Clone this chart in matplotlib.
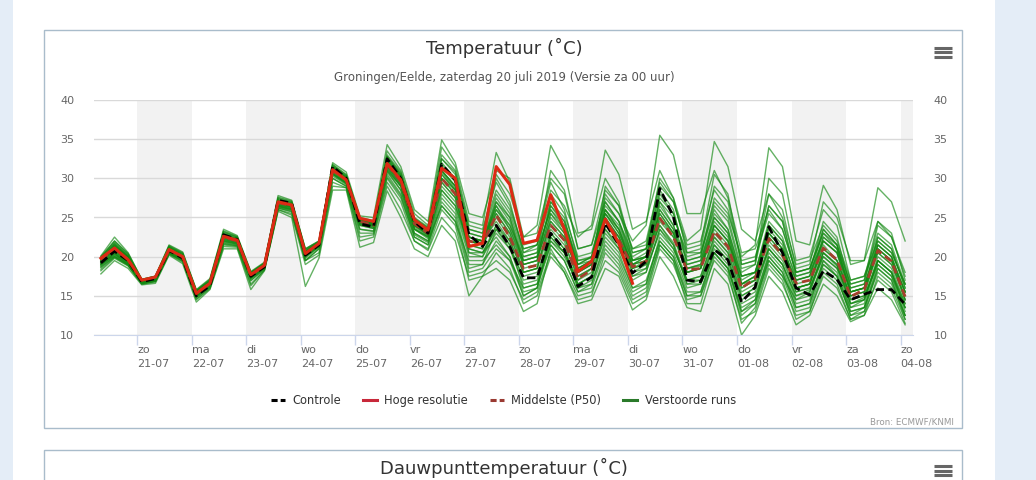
import pandas as pd
import matplotlib
matplotlib.use("Agg")
import matplotlib.pyplot as plt
from matplotlib.lines import Line2D
from matplotlib.patches import Rectangle

W, H = 1036, 480

# 6-hourly steps, local time (00 UTC run)
times = pd.date_range("2019-07-20 08:00", periods=60, freq="6h")
day_ticks = pd.date_range("2019-07-21", "2019-08-04", freq="D")
tick_labels = ["zo\n21-07", "ma\n22-07", "di\n23-07", "wo\n24-07", "do\n25-07",
               "vr\n26-07", "za\n27-07", "zo\n28-07", "ma\n29-07", "di\n30-07",
               "wo\n31-07", "do\n01-08", "vr\n02-08", "za\n03-08", "zo\n04-08"]

controle = [19.2, 20.7, 19.5, 16.8, 17.2, 20.8, 19.8, 15.0, 16.3, 22.8,
            22.2, 17.5, 18.7, 27.2, 26.8, 20.2, 21.5, 31.5, 30.0, 24.2,
            23.8, 32.5, 30.0, 24.5, 23.0, 31.8, 29.8, 22.8, 21.3, 24.0,
            21.3, 17.3, 17.3, 23.0, 20.9, 16.2, 17.4, 24.3, 21.5, 17.9,
            19.4, 28.7, 25.1, 17.0, 16.8, 20.9, 19.6, 14.2, 16.1, 23.8,
            20.5, 16.0, 15.1, 18.2, 17.1, 14.5, 15.2, 15.8, 15.8, 13.9]

# high resolution run only goes to +240h
hoge_resolutie = [19.8, 21.1, 19.6, 17.0, 17.4, 20.9, 20.0, 15.3, 16.6, 22.6,
                  22.1, 17.7, 18.9, 27.0, 26.6, 20.4, 21.7, 31.1, 29.8, 24.9,
                  24.5, 31.9, 29.8, 24.7, 23.4, 31.3, 30.0, 21.3, 21.7, 31.5,
                  29.2, 21.7, 22.1, 27.9, 23.5, 18.1, 19.4, 24.8, 21.7, 16.6]

middelste = [19.6, 21.0, 19.6, 16.9, 17.3, 20.9, 20.0, 15.3, 16.6, 22.5,
             22.0, 17.6, 18.9, 26.9, 26.5, 20.3, 21.6, 31.0, 29.8, 24.5,
             24.0, 31.8, 29.6, 24.2, 23.0, 30.0, 28.0, 22.0, 21.6, 25.3,
             22.5, 18.5, 18.9, 24.0, 22.1, 17.2, 18.3, 24.7, 22.1, 18.7,
             19.4, 24.9, 22.5, 18.3, 18.5, 23.2, 21.3, 16.0, 17.2, 22.3,
             20.2, 16.6, 17.0, 21.1, 19.6, 14.9, 15.8, 20.8, 19.4, 14.9]

verstoorde_runs = [
    [19.9, 21.8, 20.2, 17.0, 17.4, 21.3, 20.4, 15.6, 16.9, 23.0, 22.4, 17.9, 19.1, 27.4, 26.9, 20.8, 21.9, 31.6, 30.3,
     24.9, 24.4, 33.0, 30.8, 25.0, 23.8, 34.0, 31.5, 24.5, 24.0, 33.3, 29.5, 21.5, 22.0, 29.5, 26.0, 19.5, 19.8, 26.0, 23.5,
     18.5, 19.2, 24.0, 21.8, 17.0, 17.5, 22.5, 20.5, 15.5, 16.5, 21.0, 19.0, 15.0, 15.8, 20.5, 18.8, 14.0, 14.8, 19.5, 18.0, 14.0],
    [19.3, 20.8, 19.4, 16.8, 17.2, 20.8, 19.9, 15.2, 16.5, 22.3, 21.9, 17.5, 18.8, 26.6, 26.3, 20.6, 21.8, 31.4, 30.0,
     24.8, 24.3, 32.8, 30.5, 24.8, 23.5, 32.5, 30.8, 23.5, 23.0, 30.5, 28.0, 22.5, 24.0, 34.2, 31.0, 23.0, 23.5, 30.0, 27.0,
     20.5, 21.0, 27.0, 24.0, 18.5, 18.8, 24.0, 22.0, 16.5, 17.0, 22.0, 20.0, 15.5, 16.0, 20.0, 18.5, 15.0, 15.5, 21.5, 20.0, 15.5],
    [18.9, 20.4, 19.0, 16.6, 17.0, 20.6, 19.7, 15.0, 16.3, 22.1, 21.7, 17.3, 18.6, 26.4, 26.0, 20.0, 21.3, 30.7, 29.5,
     24.2, 23.9, 32.0, 29.8, 24.0, 22.8, 30.0, 28.0, 22.0, 21.8, 27.5, 25.0, 20.0, 20.5, 28.5, 26.5, 22.5, 24.0, 33.6, 30.5,
     23.5, 24.5, 31.0, 27.5, 20.5, 20.5, 26.0, 23.5, 17.5, 18.0, 23.0, 21.0, 16.0, 16.5, 21.5, 19.5, 14.5, 15.0, 19.0, 17.5, 13.5],
    [19.5, 21.2, 19.8, 17.0, 17.5, 21.0, 20.2, 15.5, 16.8, 22.8, 22.2, 17.8, 19.0, 27.2, 26.8, 20.5, 21.7, 31.2, 30.0,
     24.6, 24.2, 31.5, 29.2, 23.5, 22.5, 28.5, 26.5, 21.5, 21.0, 26.0, 23.5, 19.5, 20.0, 26.5, 24.0, 18.5, 19.5, 28.0, 25.5,
     22.0, 24.0, 35.5, 33.0, 25.5, 25.5, 31.0, 27.5, 20.5, 21.0, 26.0, 23.5, 18.0, 18.5, 23.0, 21.0, 16.0, 16.5, 21.0, 19.5, 15.5],
    [19.7, 21.4, 20.0, 16.9, 17.3, 21.1, 20.1, 15.4, 16.7, 22.7, 22.1, 17.7, 18.9, 27.0, 26.6, 20.4, 21.6, 31.2, 29.9,
     24.4, 24.0, 31.8, 29.5, 24.0, 22.9, 31.0, 29.0, 22.5, 22.0, 24.5, 22.0, 18.0, 18.5, 25.0, 23.0, 18.0, 19.0, 27.0, 24.5,
     20.0, 21.0, 30.0, 27.5, 22.0, 23.5, 34.7, 31.5, 23.5, 22.0, 28.0, 25.0, 19.0, 19.5, 24.0, 22.0, 17.0, 17.5, 22.0, 20.5, 16.5],
    [18.6, 20.0, 19.0, 16.7, 17.0, 20.5, 19.6, 15.0, 16.2, 22.0, 21.6, 17.4, 18.7, 26.5, 26.1, 20.1, 21.5, 30.5, 29.4,
     24.0, 23.6, 31.0, 29.0, 23.5, 22.5, 29.0, 27.0, 21.0, 20.5, 24.0, 22.0, 18.0, 18.5, 23.5, 21.5, 17.5, 18.5, 25.5, 23.0,
     19.0, 20.0, 26.5, 24.0, 19.5, 20.0, 27.5, 25.5, 20.0, 21.5, 33.9, 31.5, 22.0, 21.5, 29.1, 26.0, 19.0, 19.5, 24.5, 22.5, 17.5],
    [20.1, 22.5, 20.5, 17.1, 17.5, 21.5, 20.6, 15.8, 17.2, 23.5, 22.7, 18.1, 19.3, 27.8, 27.2, 21.0, 22.0, 31.8, 30.5,
     25.0, 24.6, 33.5, 31.0, 25.5, 24.0, 33.0, 31.0, 24.0, 23.5, 29.5, 26.5, 21.0, 21.5, 27.0, 24.5, 19.5, 20.0, 25.5, 23.5,
     19.0, 19.5, 27.0, 25.0, 20.5, 21.0, 29.0, 27.0, 19.0, 19.5, 28.0, 26.0, 18.5, 19.0, 27.0, 25.0, 19.5, 19.5, 28.8, 27.0, 22.0],
    [18.2, 19.8, 18.8, 16.5, 16.8, 20.3, 19.3, 14.6, 16.0, 21.5, 21.3, 16.5, 18.3, 26.0, 25.5, 19.5, 20.5, 29.0, 28.8,
     22.0, 22.5, 29.0, 26.0, 22.0, 20.8, 25.0, 23.0, 17.5, 18.0, 19.5, 18.0, 14.5, 15.5, 20.5, 18.5, 15.0, 15.5, 19.5, 18.0,
     14.0, 15.0, 21.0, 19.0, 14.5, 15.0, 19.5, 17.5, 12.0, 13.0, 18.5, 16.5, 12.5, 13.0, 17.5, 16.0, 12.0, 12.5, 17.5, 16.0, 12.0],
    [17.8, 19.5, 18.5, 16.4, 16.6, 20.2, 19.1, 14.2, 15.8, 21.0, 21.0, 15.8, 18.2, 25.8, 25.0, 16.2, 19.8, 28.5, 28.5,
     21.2, 21.8, 28.4, 25.0, 21.0, 20.0, 24.0, 22.0, 15.0, 17.5, 18.5, 17.0, 13.0, 14.0, 21.0, 18.0, 14.0, 14.5, 18.5, 17.5,
     13.2, 14.5, 20.0, 17.5, 13.5, 13.0, 18.5, 16.5, 10.0, 12.5, 17.5, 15.5, 11.3, 12.5, 16.5, 15.0, 11.7, 12.5, 16.0, 14.5, 11.3],
    [19.2, 20.6, 19.3, 16.8, 17.1, 20.7, 19.8, 15.1, 16.4, 22.2, 21.8, 17.4, 18.8, 26.7, 26.3, 20.2, 21.5, 30.8, 29.6,
     24.3, 23.9, 31.5, 29.3, 23.8, 22.7, 30.0, 28.0, 20.5, 20.0, 23.0, 21.0, 16.5, 17.0, 22.5, 20.5, 16.0, 17.0, 23.0, 21.0,
     17.0, 18.0, 23.5, 21.5, 16.5, 17.0, 22.0, 20.0, 14.5, 15.5, 21.0, 19.0, 15.0, 15.5, 20.0, 18.5, 13.5, 14.5, 19.5, 18.0, 13.5],
    [19.8, 21.3, 19.9, 17.0, 17.4, 21.0, 20.1, 15.5, 16.8, 22.7, 22.2, 17.7, 19.0, 27.0, 26.6, 20.5, 21.7, 31.3, 30.0,
     24.6, 24.2, 32.2, 30.0, 24.5, 23.3, 31.5, 29.5, 22.5, 22.0, 26.5, 23.5, 19.0, 19.5, 25.5, 23.0, 17.5, 18.5, 25.5, 23.0,
     19.0, 19.5, 26.0, 23.5, 18.5, 19.0, 24.5, 22.5, 16.5, 17.5, 23.0, 21.0, 17.0, 17.5, 22.0, 20.5, 15.5, 16.0, 21.5, 20.0, 15.5],
    [19.0, 20.3, 19.2, 16.7, 16.9, 20.6, 19.7, 14.9, 16.2, 21.8, 21.5, 17.2, 18.5, 26.3, 25.9, 19.5, 21.0, 30.0, 29.0,
     23.0, 23.0, 30.0, 27.5, 22.5, 21.5, 27.0, 25.0, 18.5, 19.0, 22.0, 20.0, 15.0, 16.0, 23.0, 21.0, 16.5, 17.5, 22.5, 20.5,
     16.0, 16.5, 22.0, 20.0, 15.5, 15.5, 21.0, 19.0, 13.0, 14.5, 20.5, 18.5, 14.0, 14.5, 19.5, 18.0, 13.0, 13.5, 19.0, 17.5, 12.5],
    [19.6, 21.5, 20.0, 17.0, 17.5, 21.2, 20.3, 15.6, 17.0, 23.2, 22.5, 18.0, 19.2, 27.5, 27.0, 21.0, 22.0, 32.0, 30.8,
     25.2, 25.0, 34.3, 31.5, 26.0, 24.5, 34.9, 32.0, 25.5, 25.0, 31.0, 30.0, 22.5, 23.0, 30.0, 28.0, 21.0, 21.5, 28.5, 26.5,
     21.0, 21.5, 29.0, 27.0, 21.5, 22.0, 28.5, 26.0, 19.5, 20.0, 25.5, 23.5, 18.0, 18.5, 23.5, 21.5, 16.5, 17.0, 22.5, 21.0, 16.0],
    [19.4, 20.9, 19.5, 16.9, 17.2, 20.8, 19.9, 15.3, 16.6, 22.4, 21.9, 17.6, 18.9, 26.8, 26.4, 20.3, 21.6, 30.9, 29.7,
     24.4, 24.0, 31.0, 28.5, 23.0, 22.0, 26.5, 24.5, 19.5, 19.5, 21.5, 19.5, 16.0, 16.5, 21.5, 19.5, 15.5, 16.5, 21.5, 19.5,
     15.5, 16.5, 22.5, 20.5, 16.0, 16.5, 21.5, 19.5, 14.0, 15.0, 20.0, 18.0, 13.5, 14.0, 19.0, 17.5, 12.5, 13.0, 18.5, 17.0, 12.5],
    [20.0, 22.0, 20.4, 17.1, 17.5, 21.4, 20.5, 15.7, 17.1, 23.3, 22.6, 18.0, 19.2, 27.6, 27.1, 20.9, 21.9, 31.7, 30.4,
     24.9, 24.5, 32.5, 30.3, 24.8, 23.7, 31.8, 29.7, 23.0, 22.5, 28.0, 25.5, 20.5, 21.0, 26.0, 24.0, 19.0, 20.0, 27.5, 25.5,
     21.0, 22.0, 29.5, 27.0, 21.0, 21.5, 30.5, 28.0, 19.0, 19.5, 26.5, 24.5, 17.5, 18.0, 24.5, 22.5, 16.0, 16.5, 24.0, 22.5, 18.0],
    [19.3, 20.7, 19.4, 16.8, 17.2, 20.9, 20.0, 15.2, 16.5, 22.5, 22.0, 17.5, 18.9, 26.9, 26.5, 20.3, 21.6, 31.1, 29.9,
     24.6, 24.1, 31.9, 29.8, 24.3, 23.1, 30.8, 28.7, 22.0, 21.5, 25.0, 22.5, 18.5, 19.0, 24.0, 22.0, 17.0, 18.0, 24.5, 22.0,
     18.5, 19.0, 25.0, 22.5, 18.0, 18.5, 23.0, 21.0, 16.0, 17.0, 22.5, 20.5, 16.5, 17.0, 21.0, 19.5, 15.0, 15.5, 20.5, 19.0, 15.0],
    [18.8, 20.2, 19.1, 16.6, 16.9, 20.4, 19.5, 14.8, 16.1, 21.7, 21.4, 17.0, 18.4, 26.2, 25.8, 19.8, 21.2, 30.3, 29.2,
     23.5, 23.2, 30.5, 28.0, 22.8, 21.8, 27.5, 25.5, 19.0, 19.0, 23.5, 21.5, 16.0, 16.5, 22.0, 20.5, 17.0, 18.5, 29.0, 26.5,
     19.5, 20.0, 24.0, 21.5, 16.5, 16.5, 20.5, 18.5, 13.5, 14.5, 19.5, 17.5, 14.5, 15.0, 19.0, 17.5, 13.5, 14.0, 19.5, 18.0, 13.5],
    [19.7, 21.6, 20.1, 16.9, 17.3, 21.2, 20.2, 15.5, 16.8, 22.9, 22.3, 17.8, 19.0, 27.1, 26.7, 20.6, 21.8, 31.5, 30.2,
     24.7, 24.3, 32.6, 30.4, 24.6, 23.4, 32.0, 30.0, 23.0, 22.5, 30.0, 27.0, 20.5, 21.5, 31.0, 28.5, 21.0, 21.5, 27.0, 24.5,
     19.5, 20.0, 25.5, 23.0, 18.0, 18.5, 24.0, 22.0, 17.5, 18.0, 24.0, 22.0, 17.5, 18.0, 22.0, 20.5, 15.5, 16.0, 20.5, 19.0, 14.5],
    [18.4, 19.9, 18.9, 16.5, 16.8, 20.4, 19.4, 14.5, 15.9, 21.3, 21.2, 16.3, 18.3, 26.0, 25.3, 19.0, 20.2, 29.5, 28.8,
     22.5, 22.8, 29.5, 27.0, 22.0, 21.0, 26.0, 24.0, 17.0, 17.5, 20.5, 18.5, 14.0, 15.0, 20.0, 18.0, 14.5, 15.0, 20.5, 18.5,
     14.5, 15.5, 21.5, 19.5, 14.0, 14.0, 20.0, 18.0, 11.5, 13.5, 19.0, 17.0, 12.0, 13.0, 18.0, 16.5, 12.0, 13.0, 17.0, 15.5, 11.5],
    [19.5, 21.1, 19.6, 16.9, 17.3, 20.9, 20.0, 15.3, 16.6, 22.6, 22.1, 17.6, 18.9, 26.9, 26.5, 20.4, 21.7, 31.2, 29.9,
     24.5, 24.1, 32.0, 29.9, 24.4, 23.2, 30.5, 28.5, 22.5, 22.0, 26.0, 24.0, 19.5, 20.0, 24.5, 22.5, 18.0, 19.0, 24.0, 22.0,
     18.0, 18.5, 24.5, 22.5, 19.0, 19.5, 25.0, 23.0, 17.0, 18.0, 23.5, 21.5, 16.0, 16.5, 21.0, 19.5, 15.0, 15.5, 21.0, 19.5, 15.5],
    [19.1, 20.5, 19.3, 16.8, 17.1, 20.7, 19.8, 15.1, 16.4, 22.2, 21.8, 17.4, 18.7, 26.6, 26.2, 20.1, 21.4, 30.6, 29.4,
     24.1, 23.7, 31.3, 29.0, 23.6, 22.6, 29.5, 27.5, 21.0, 20.5, 22.5, 20.0, 15.5, 16.0, 22.5, 20.5, 16.5, 17.5, 23.5, 21.0,
     17.5, 18.5, 23.0, 21.0, 17.0, 17.5, 22.5, 20.5, 15.0, 16.0, 21.5, 19.5, 15.5, 16.0, 20.5, 19.0, 14.0, 14.5, 20.0, 18.5, 14.0],
    [19.8, 21.7, 20.0, 17.0, 17.4, 21.1, 20.2, 15.5, 16.8, 22.8, 22.3, 17.8, 19.0, 27.1, 26.7, 20.6, 21.8, 31.4, 30.1,
     24.7, 24.3, 32.3, 30.2, 24.6, 23.4, 31.0, 29.0, 22.5, 22.0, 27.0, 24.5, 19.5, 20.0, 26.5, 24.5, 19.0, 20.0, 26.0, 24.0,
     19.5, 20.0, 27.5, 25.5, 19.5, 20.0, 26.5, 24.5, 18.0, 19.0, 30.0, 28.0, 19.5, 20.0, 26.0, 24.0, 17.0, 17.5, 23.0, 21.5, 16.5],
    [19.0, 20.1, 19.0, 16.6, 17.0, 20.5, 19.6, 15.0, 16.3, 21.9, 21.6, 17.2, 18.6, 26.4, 26.0, 20.0, 21.3, 30.5, 29.3,
     24.0, 23.6, 30.8, 28.5, 23.0, 22.0, 28.0, 26.0, 20.0, 20.0, 24.0, 21.5, 17.0, 17.5, 23.0, 21.0, 16.0, 16.5, 22.0, 20.0,
     16.0, 17.0, 22.0, 20.0, 15.0, 15.0, 20.5, 18.5, 12.5, 14.0, 19.5, 17.5, 13.0, 13.5, 18.5, 17.0, 13.0, 13.5, 18.0, 16.5, 12.5],
    [19.9, 22.0, 20.3, 17.1, 17.5, 21.3, 20.4, 15.7, 17.0, 23.1, 22.5, 17.9, 19.1, 27.3, 26.9, 20.7, 21.9, 31.5, 30.2,
     24.8, 24.4, 32.8, 30.6, 24.9, 23.6, 32.5, 30.5, 23.5, 23.0, 28.5, 26.0, 21.0, 21.5, 28.0, 25.5, 20.0, 20.5, 26.5, 24.5,
     20.5, 21.0, 28.0, 25.5, 20.0, 20.5, 27.0, 25.0, 18.5, 19.0, 26.5, 24.5, 18.0, 18.5, 23.0, 21.5, 16.5, 17.0, 24.5, 23.0, 17.0],
    [19.6, 21.3, 19.8, 16.9, 17.3, 21.0, 20.1, 15.4, 16.7, 22.6, 22.1, 17.7, 19.0, 27.1, 26.6, 20.5, 21.7, 31.3, 30.0,
     24.6, 24.2, 32.0, 30.0, 24.2, 23.0, 29.5, 27.5, 21.5, 21.0, 27.0, 25.0, 19.0, 19.5, 27.0, 25.0, 18.5, 19.5, 26.0, 23.5,
     19.5, 20.5, 28.5, 26.0, 19.0, 19.5, 25.5, 23.5, 17.5, 18.0, 24.5, 22.5, 17.0, 17.5, 23.5, 21.5, 15.5, 16.0, 22.5, 21.0, 16.0],
    [19.1, 20.4, 19.2, 16.7, 17.0, 20.6, 19.7, 15.0, 16.4, 22.0, 21.7, 17.3, 18.7, 26.5, 26.1, 20.0, 21.4, 30.6, 29.4,
     24.2, 23.8, 31.2, 29.0, 23.5, 22.3, 28.5, 26.5, 20.5, 20.5, 23.5, 21.0, 17.5, 18.0, 22.0, 20.0, 16.5, 17.5, 23.5, 21.5,
     17.5, 18.0, 23.5, 21.0, 17.0, 17.0, 21.5, 19.5, 15.0, 16.0, 21.0, 19.0, 14.5, 15.5, 20.5, 19.0, 14.0, 14.5, 19.5, 18.0, 13.0],
    [19.4, 21.0, 19.7, 16.9, 17.2, 20.9, 20.0, 15.3, 16.6, 22.5, 22.0, 17.6, 18.9, 26.8, 26.4, 20.3, 21.6, 31.0, 29.8,
     24.5, 24.0, 31.7, 29.6, 24.0, 22.8, 30.0, 28.5, 22.0, 21.5, 26.5, 24.0, 20.0, 20.5, 26.0, 23.5, 19.0, 19.5, 25.0, 22.5,
     18.0, 19.0, 26.0, 23.5, 18.0, 18.5, 24.0, 22.0, 16.5, 17.5, 24.0, 22.0, 16.0, 16.5, 22.5, 21.0, 15.5, 16.0, 21.5, 20.0, 14.5],
    [19.7, 21.5, 19.9, 17.0, 17.4, 21.0, 20.1, 15.5, 16.8, 22.8, 22.2, 17.8, 19.0, 27.1, 26.7, 20.6, 21.8, 31.4, 30.1,
     24.7, 24.2, 32.4, 30.2, 24.7, 23.5, 31.0, 29.0, 22.0, 21.5, 25.5, 23.0, 18.0, 18.5, 24.5, 22.5, 18.0, 19.0, 25.0, 22.5,
     19.0, 20.0, 25.5, 23.0, 18.5, 19.0, 25.0, 23.0, 16.5, 17.5, 22.5, 20.5, 16.0, 16.5, 22.0, 20.5, 14.5, 15.0, 21.0, 19.5, 14.5],
    [18.7, 20.0, 18.9, 16.6, 16.9, 20.4, 19.5, 14.8, 16.1, 21.6, 21.4, 16.9, 18.5, 26.2, 25.7, 19.5, 21.0, 30.0, 29.0,
     23.5, 23.3, 30.2, 27.8, 22.5, 21.5, 26.5, 24.5, 18.0, 18.5, 21.0, 19.5, 15.0, 16.0, 21.5, 19.5, 15.5, 16.0, 21.0, 19.0,
     15.0, 16.0, 21.5, 19.5, 15.0, 15.5, 20.5, 18.5, 13.0, 14.0, 20.0, 18.0, 13.5, 14.0, 19.5, 17.5, 12.5, 13.5, 18.5, 17.0, 12.0],
    [19.5, 21.0, 19.6, 16.9, 17.3, 20.9, 20.0, 15.3, 16.6, 22.5, 22.0, 17.6, 18.9, 26.9, 26.5, 20.3, 21.6, 31.0, 29.8,
     24.5, 24.0, 31.8, 29.5, 24.0, 23.0, 30.5, 28.5, 22.5, 22.0, 25.5, 23.0, 19.0, 19.5, 25.5, 23.5, 18.5, 19.5, 24.5, 22.5,
     18.5, 19.5, 25.0, 23.0, 18.0, 18.5, 23.5, 21.5, 16.0, 17.0, 23.0, 21.0, 17.0, 17.5, 22.5, 21.0, 15.5, 16.0, 22.0, 20.5, 16.5],
]


def fx(x):
    return x / W


def fy(y):
    return 1 - y / H


fig = plt.figure(figsize=(W / 100, H / 100), dpi=100, facecolor="white")

# page background strips and chart frames
for x0, x1 in [(0, 13), (995, W)]:
    fig.add_artist(Rectangle((fx(x0), 0), fx(x1) - fx(x0), 1, transform=fig.transFigure,
                             facecolor="#e4edf7", edgecolor="none", zorder=0))
fig.add_artist(Rectangle((fx(44), fy(428)), fx(962) - fx(44), fy(30) - fy(428),
                         transform=fig.transFigure, fill=False, edgecolor="#a9bccb", lw=1))
fig.add_artist(Rectangle((fx(44), fy(490)), fx(962) - fx(44), fy(450) - fy(490),
                         transform=fig.transFigure, fill=False, edgecolor="#a9bccb", lw=1))

# hamburger menus
for yc in [47.5, 52, 56.5, 466, 470.5, 475]:
    fig.add_artist(Line2D([fx(934), fx(951.5)], [fy(yc), fy(yc)], transform=fig.transFigure,
                          color="#666666", lw=2.2, solid_capstyle="butt"))

fig.text(fx(504), fy(54.5), "Temperatuur (˚C)", ha="center", va="baseline",
         fontsize=13, color="#333333")
fig.text(fx(504), fy(80.5), "Groningen/Eelde, zaterdag 20 juli 2019 (Versie za 00 uur)",
         ha="center", va="baseline", fontsize=8.5, color="#555555")
fig.text(fx(504), fy(474), "Dauwpunttemperatuur (˚C)", ha="center", va="baseline",
         fontsize=13, color="#333333")
fig.text(fx(954), fy(422), "Bron: ECMWF/KNMI", ha="right", va="center",
         fontsize=6.3, color="#999999")

ax = fig.add_axes([fx(94.3), fy(335), fx(913.3) - fx(94.3), fy(100) - fy(335)])
ax.set_facecolor("none")

for d in day_ticks[::2]:
    ax.axvspan(d, d + pd.Timedelta(days=1), color="#f2f2f2", lw=0, zorder=0)

for run in verstoorde_runs:
    ax.plot(times, run, color="#118811", lw=1.0, alpha=0.65, zorder=2)
ax.plot(times, middelste, color="#a3402c", lw=2.0, ls=(0, (3, 1.6)), zorder=3)
ax.plot(times, controle, color="black", lw=2.0, ls=(0, (3, 1.6)), zorder=4)
ax.plot(times[:len(hoge_resolutie)], hoge_resolutie, color="#dd2a14", lw=2.2, zorder=5)

ax.set_ylim(10, 40)
ax.set_xlim(times[0] - pd.Timedelta(hours=2.9), times[-1] + pd.Timedelta(hours=3.6))
ax.set_yticks(range(10, 41, 5))
ax.yaxis.grid(True, color="#d9d9d9", lw=1, zorder=1)
ax.set_axisbelow(True)
for s in ["top", "left", "right"]:
    ax.spines[s].set_visible(False)
ax.spines["bottom"].set_color("#ccd6eb")
ax.tick_params(axis="y", left=False, right=False, labelleft=True, labelright=True,
               pad=11, labelsize=8, labelcolor="#666666")
ax.set_xticks(day_ticks)
ax.set_xticklabels(tick_labels, ha="left", linespacing=1.5)
ax.tick_params(axis="x", length=7.2, width=1, color="#ccd6eb", pad=0,
               labelsize=8, labelcolor="#666666")

handles = [Line2D([], [], color="black", lw=2.2, ls=(0, (2, 1))),
           Line2D([], [], color="#c8283a", lw=2.2),
           Line2D([], [], color="#9a3a32", lw=2.2, ls=(0, (2, 1))),
           Line2D([], [], color="#2a7a2a", lw=2.2)]
labels = ["Controle", "Hoge resolutie", "Middelste (P50)", "Verstoorde runs"]
leg = fig.legend(handles, labels, ncol=4, loc="center", bbox_to_anchor=(fx(503.4), fy(400.3)),
                 frameon=False, fontsize=8.3, handlelength=1.21, handletextpad=0.66,
                 columnspacing=1.88)
for t in leg.get_texts():
    t.set_color("#333333")

fig.savefig("out.png", dpi=100, facecolor="white")
